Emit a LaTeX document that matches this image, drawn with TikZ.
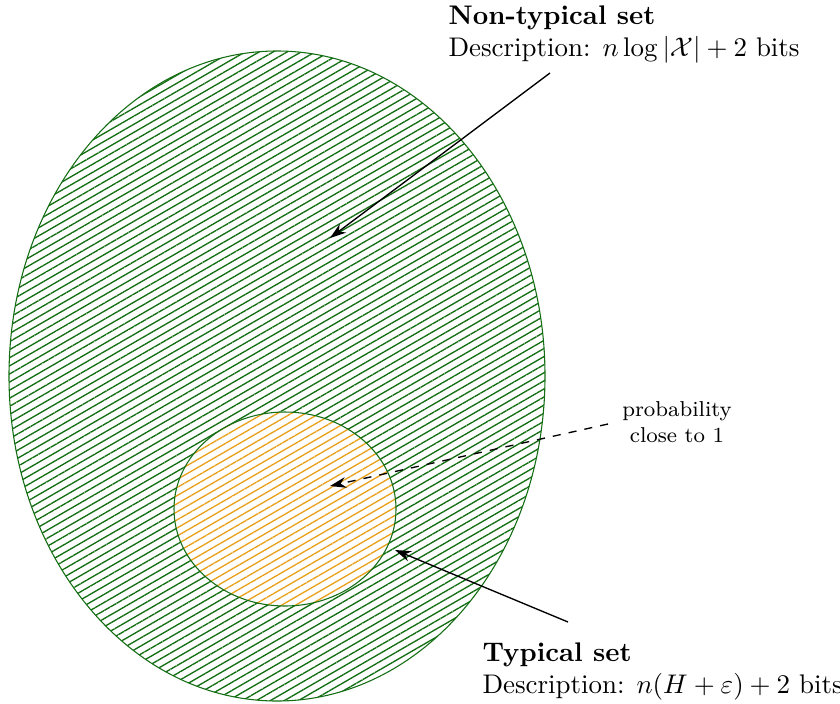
\documentclass[tikz,border=0pt]{standalone}
\usepackage{amsmath}
\usetikzlibrary{patterns.meta,arrows.meta}
\definecolor{setgreen}{RGB}{20,110,20}
\definecolor{setorange}{RGB}{232,162,30}

\begin{document}
\begin{tikzpicture}[x=0.01305cm, y=-0.01305cm,
	hatch/.style={pattern={Lines[angle=30,distance=2.6pt,line width=0.5pt]}},
	pointer/.style={-{Stealth[length=6pt,width=4pt]}, line width=0.5pt}]

\useasboundingbox (0,0) rectangle (840,703);

% the two sets
\path[draw=setgreen, hatch, pattern color=setgreen] (277,376) ellipse (268 and 325);
\fill[white] (285,509) ellipse (111 and 97);
\path[draw=setgreen, hatch, pattern color=setorange] (285,509) ellipse (111 and 97);

\coordinate (inbig) at (330,238);
\coordinate (insmall) at (330,486);
\coordinate (rimsmall) at (395,550);

% labels
\node[anchor=north west, align=left, inner sep=0pt] (nontyp) at (448,5)
	{\textbf{Non-typical set}\\Description: $n\log|\mathcal{X}|+2$ bits};
\node[anchor=south west, align=left, inner sep=0pt] (typ) at (482,701)
	{\textbf{Typical set}\\Description: $n(H+\varepsilon)+2$ bits};
\node[align=center, font=\footnotesize, inner sep=0pt] (prob) at (677,422)
	{probability\\close to 1};

\draw[pointer] (550,73) -- (inbig);
\draw[pointer] (568,622) -- (rimsmall);
\draw[pointer, dashed] (608,424) -- (insmall);

\end{tikzpicture}
\end{document}
